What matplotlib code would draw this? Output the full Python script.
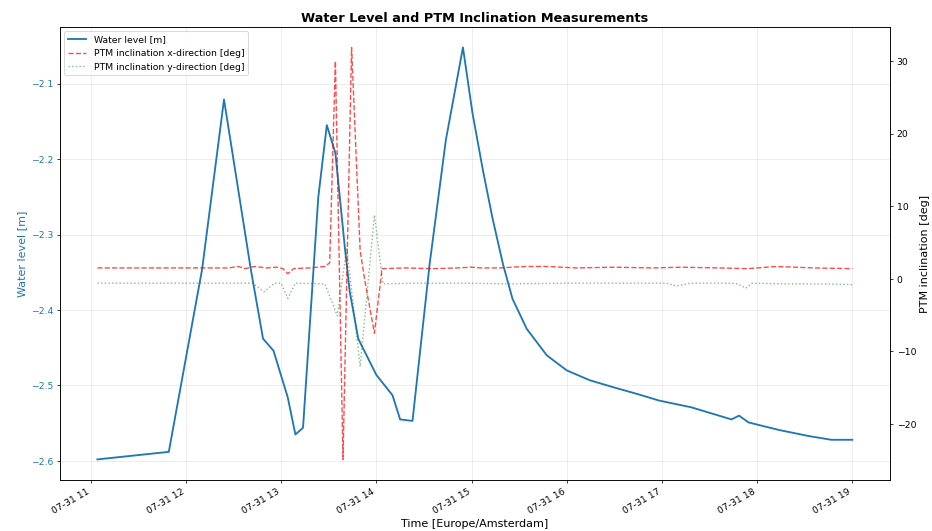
import matplotlib
matplotlib.use("Agg")
from matplotlib import pyplot as plt
import matplotlib.dates as mdates
import pandas as pd

BASE_DAY = pd.Timestamp("2023-07-31")

# water level (hours after midnight, metres)
wl_hours = [11.07, 11.82, 12.17, 12.40, 12.68, 12.81, 12.92, 13.07, 13.15, 13.23,
            13.39, 13.48, 13.57, 13.67, 13.72, 13.81, 14.00, 14.17, 14.25, 14.38,
            14.56, 14.73, 14.91, 15.01, 15.12, 15.22, 15.33, 15.43, 15.58, 15.79,
            16.00, 16.24, 16.48, 16.76, 16.97, 17.31, 17.73, 17.81, 17.91, 18.23,
            18.54, 18.78, 19.00]
water_level = [-2.598, -2.588, -2.346, -2.121, -2.345, -2.438, -2.454, -2.516, -2.565, -2.556,
               -2.251, -2.155, -2.192, -2.318, -2.375, -2.438, -2.486, -2.513, -2.545, -2.547,
               -2.339, -2.175, -2.052, -2.139, -2.215, -2.278, -2.339, -2.385, -2.425, -2.460,
               -2.480, -2.493, -2.502, -2.512, -2.520, -2.529, -2.545, -2.540, -2.549, -2.559,
               -2.567, -2.572, -2.572]

# PTM inclination x-direction [deg]
x_hours = [11.07, 11.40, 11.80, 12.20, 12.45, 12.55, 12.62, 12.72, 12.85, 12.95,
           13.02, 13.07, 13.13, 13.30, 13.46, 13.51, 13.57, 13.65, 13.74, 13.83,
           13.88, 13.98, 14.06, 14.30, 14.60, 14.85, 15.00, 15.10, 15.30, 15.55,
           15.80, 16.10, 16.50, 16.90, 17.20, 17.60, 17.90, 18.20, 18.60, 19.00]
incl_x = [1.5, 1.5, 1.5, 1.5, 1.5, 1.7, 1.4, 1.7, 1.5, 1.6,
          1.4, 0.7, 1.4, 1.5, 1.7, 2.2, 30.0, -24.9, 31.9, 3.9,
          -0.3, -7.5, 1.4, 1.5, 1.4, 1.5, 1.6, 1.5, 1.5, 1.7,
          1.7, 1.5, 1.6, 1.5, 1.6, 1.5, 1.4, 1.7, 1.5, 1.4]

# PTM inclination y-direction [deg]
y_hours = [11.07, 11.60, 12.20, 12.70, 12.82, 12.93, 13.00, 13.07, 13.15, 13.46,
           13.59, 13.69, 13.83, 13.98, 14.07, 14.40, 14.90, 15.40, 16.00, 16.60,
           17.05, 17.15, 17.30, 17.70, 17.80, 17.88, 17.95, 18.30, 18.70, 19.00]
incl_y = [-0.6, -0.6, -0.6, -0.6, -1.8, -0.6, -0.6, -2.7, -0.6, -0.7,
          -5.1, 4.3, -12.1, 8.8, -0.7, -0.6, -0.6, -0.7, -0.6, -0.6,
          -0.6, -1.0, -0.6, -0.6, -0.7, -1.3, -0.6, -0.7, -0.7, -0.8]

wl_time = BASE_DAY + pd.to_timedelta(wl_hours, unit="h")
x_time = BASE_DAY + pd.to_timedelta(x_hours, unit="h")
y_time = BASE_DAY + pd.to_timedelta(y_hours, unit="h")

fig, ax1 = plt.subplots(figsize=(14, 7.98), dpi=932 / 14)

line1, = ax1.plot(wl_time, water_level, color="#1f77b4", lw=2, label="Water level [m]")
ax1.set_xlabel("Time [Europe/Amsterdam]", fontsize=12)
ax1.set_ylabel("Water level [m]", color="#1f77b4", fontsize=12)
ax1.tick_params(axis="y", labelcolor="#1f77b4")
ax1.grid(True, alpha=0.3)

ax2 = ax1.twinx()
line2, = ax2.plot(x_time, incl_x, color="red", ls="--", lw=1.5, alpha=0.7,
                  label="PTM inclination x-direction [deg]")
line3, = ax2.plot(y_time, incl_y, color="green", ls=":", lw=1.5, alpha=0.5,
                  label="PTM inclination y-direction [deg]")
ax2.set_ylabel("PTM inclination [deg]", fontsize=12)

ax1.xaxis.set_major_formatter(mdates.DateFormatter("%m-%d %H"))
for lbl in ax1.get_xticklabels():
    lbl.set_rotation(30)
    lbl.set_ha("right")

lines = [line1, line2, line3]
ax1.legend(lines, [l.get_label() for l in lines], loc="upper left", fontsize=10)

plt.title("Water Level and PTM Inclination Measurements", fontsize=14, fontweight="bold")
plt.subplots_adjust(left=0.064, right=0.955, top=0.949, bottom=0.096)
plt.savefig("out.png")
